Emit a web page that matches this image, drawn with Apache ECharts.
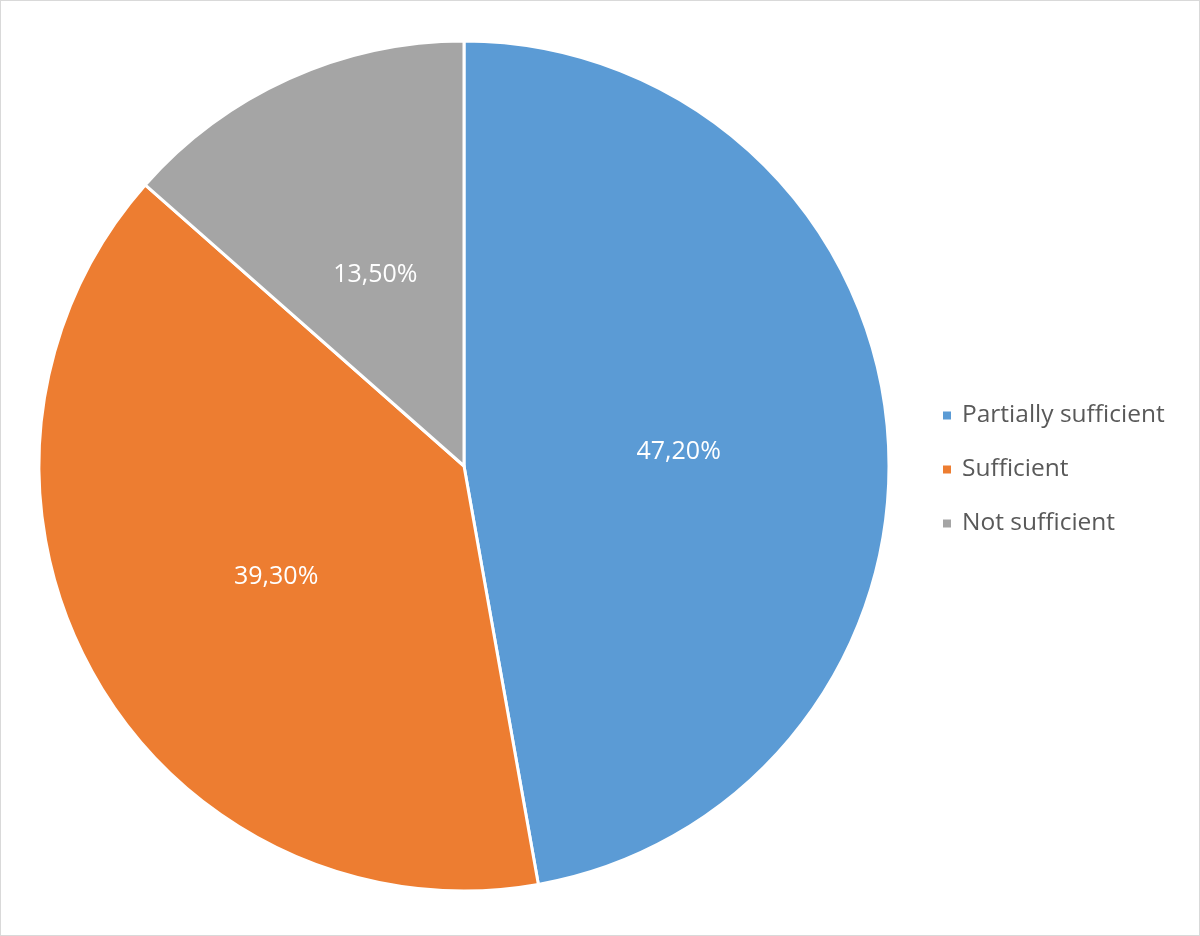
<!DOCTYPE html>
<html>
<head>
<meta charset="utf-8">
<script src="https://cdn.jsdelivr.net/npm/echarts@6/dist/echarts.min.js"></script>
<style>
  html, body { margin: 0; padding: 0; background: #fff; }
  #chart { width: 1198px; height: 934px; border: 1px solid #d9d9d9; }
</style>
</head>
<body>
<div id="chart"></div>
<script>
const categories = ['Partially sufficient', 'Sufficient', 'Not sufficient'];
const shares = [47.2, 39.3, 13.5];
const colors = ['#5B9BD5', '#ED7D31', '#A5A5A5'];

const chart = echarts.init(document.getElementById('chart'));

chart.setOption({
  animation: false,
  legend: {
    orient: 'vertical',
    left: 935,
    top: 397,
    itemWidth: 10,
    itemHeight: 10,
    itemGap: 29,
    icon: 'rect',
    data: categories,
    textStyle: {
      fontFamily: 'Open Sans',
      fontSize: 24.5,
      lineHeight: 24,
      color: '#595959',
      padding: [0, 0, 0, 5],
    },
  },
  series: [
    {
      type: 'pie',
      center: [463, 465],
      radius: 425,
      startAngle: 90,
      clockwise: true,
      data: categories.map((name, i) => ({
        name,
        value: shares[i],
        itemStyle: { color: colors[i] },
      })),
      itemStyle: {
        borderColor: '#fff',
        borderWidth: 3,
      },
      label: {
        position: 'inside',
        formatter: (p) => p.value.toFixed(2).replace('.', ',') + '%',
        color: '#fff',
        fontFamily: 'Open Sans',
        fontSize: 25,
        offset: [0, 5],
      },
      labelLine: { show: false },
      emphasis: { disabled: true },
    },
  ],
});
</script>
</body>
</html>
